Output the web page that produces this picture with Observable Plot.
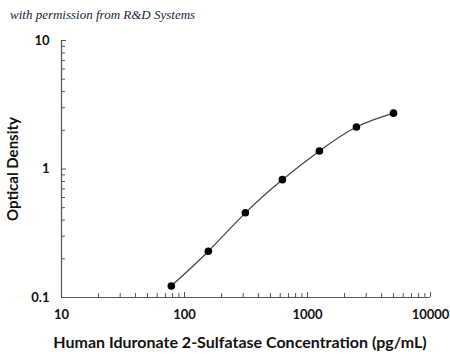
<!DOCTYPE html>
<html>
<head>
<meta charset="utf-8">
<script src="https://cdn.jsdelivr.net/npm/d3@7"></script>
<script src="https://cdn.jsdelivr.net/npm/@observablehq/plot@0.6"></script>
<style>
  html, body { margin: 0; padding: 0; background: #fff; }
  #wrap { position: relative; width: 450px; height: 356px; }
  #credit { position: absolute; left: 10px; top: 7px; font-family: "Liberation Serif", "DejaVu Serif", serif; font-style: italic; font-size: 13px; color: #1c1c3c; }
</style>
</head>
<body>
<div id="wrap"><div id="credit">with permission from R&amp;D Systems</div></div>
<script>
const concentration = [78.1, 156.25, 312.5, 625, 1250, 2500, 5000];
const opticalDensity = [0.123, 0.229, 0.456, 0.826, 1.38, 2.12, 2.72];
const xMajorTicks = [10, 100, 1000, 10000];
const yMajorTicks = [0.1, 1, 10];
const xMinorTicks = [20,30,40,50,60,70,80,90,200,300,400,500,600,700,800,900,2000,3000,4000,5000,6000,7000,8000,9000];
const yMinorTicks = [0.2,0.3,0.4,0.5,0.6,0.7,0.8,0.9,2,3,4,5,6,7,8,9];
const xTitle = "Human Iduronate 2-Sulfatase Concentration (pg/mL)";
const yTitle = "Optical Density";

const data = concentration.map((c, i) => ({c, od: opticalDensity[i]}));
const axisColor = "#555";

const chart = Plot.plot({
  width: 450,
  height: 356,
  marginLeft: 61,
  marginRight: 20,
  marginTop: 40,
  marginBottom: 59,
  style: {fontFamily: "Lato, 'Open Sans', sans-serif", fontWeight: "bold", fontSize: "13px", color: "#111", background: "#fff"},
  x: {type: "log", domain: [10, 10000]},
  y: {type: "log", domain: [0.1, 10]},
  marks: [
    Plot.ruleY([0.1], {stroke: axisColor, strokeWidth: 1.2}),
    Plot.ruleX([10], {stroke: axisColor, strokeWidth: 1.2}),
    Plot.axisX(xMinorTicks, {tickSize: -4, text: null, label: null, stroke: axisColor}),
    Plot.axisX(xMajorTicks, {tickSize: -5, text: null, label: null, stroke: axisColor}),
    Plot.axisY(yMinorTicks, {tickSize: -4, text: null, label: null, stroke: axisColor}),
    Plot.axisY(yMajorTicks, {tickSize: -5, text: null, label: null, stroke: axisColor}),
    Plot.axisX(xMajorTicks, {tickSize: 0, tickPadding: 12, tickFormat: d => String(d), label: xTitle, labelAnchor: "center", labelArrow: "none", labelOffset: 50, fontSize: 13}),
    Plot.axisY(yMajorTicks, {tickSize: 0, tickPadding: 12, tickFormat: d => String(d), label: yTitle, labelAnchor: "center", labelArrow: "none", labelOffset: 54, fontSize: 13}),
    Plot.line(data, {x: "c", y: "od", curve: "natural", stroke: "#444", strokeWidth: 1.2}),
    Plot.dot(data, {x: "c", y: "od", r: 3.8, fill: "#000", stroke: "none"})
  ]
});
chart.querySelectorAll("[aria-label='x-axis label'] text").forEach(t => { t.setAttribute("font-size", "16"); t.setAttribute("transform", (t.getAttribute("transform") || "") + " translate(-6,0)"); });
chart.querySelectorAll("[aria-label='y-axis label'] text").forEach(t => t.setAttribute("font-size", "15"));
document.getElementById("wrap").prepend(chart);
</script>
</body>
</html>
